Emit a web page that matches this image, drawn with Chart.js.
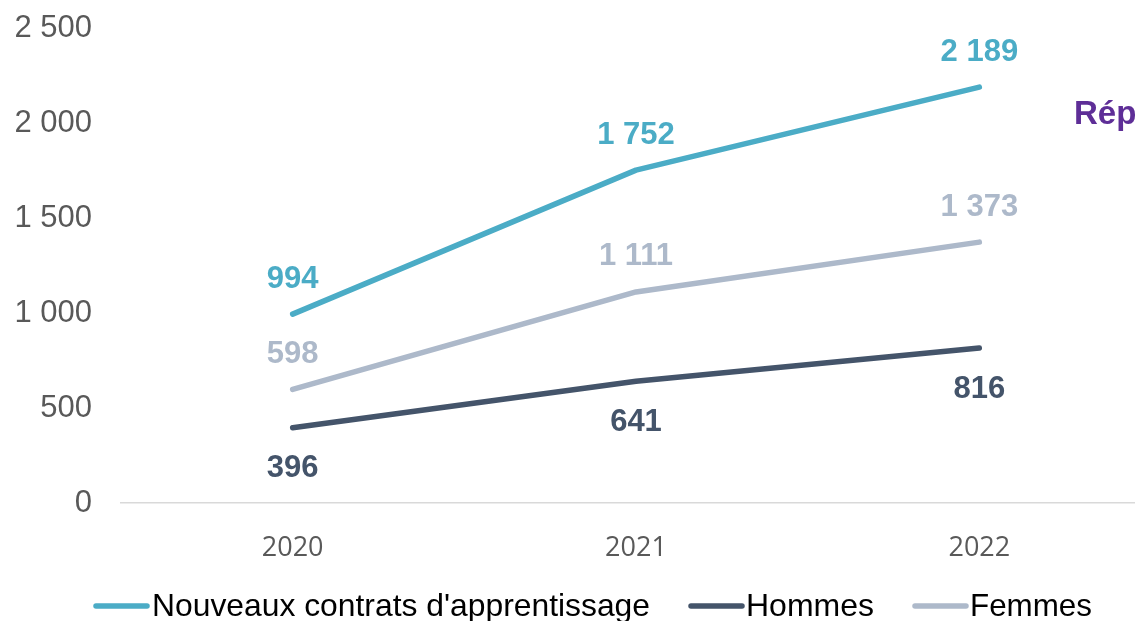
<!DOCTYPE html>
<html>
<head>
<meta charset="utf-8">
<script src="https://cdn.jsdelivr.net/npm/chart.js@4/dist/chart.umd.min.js"></script>
<style>
  html, body { margin: 0; padding: 0; background: #ffffff; overflow: hidden; }
  #wrap { position: relative; width: 1135px; height: 621px; overflow: hidden; }
  #box { position: absolute; left: 0; top: 0; width: 1160px; height: 621px; }
  #side { position: absolute; left: 1074px; top: 94px; white-space: nowrap;
          font: bold 33px "Liberation Sans", Arial, sans-serif; color: #5E2E97; }
</style>
</head>
<body>
<div id="wrap">
  <div id="box"><canvas id="c" width="1160" height="621"></canvas></div>
  <div id="side">Répartition</div>
</div>
<script>
const categories = ['2020', '2021', '2022'];
const contrats = [994, 1752, 2189];
const hommes = [396, 641, 816];
const femmes = [598, 1111, 1373];
const yTicks = [0, 500, 1000, 1500, 2000, 2500];
const seriesNames = ["Nouveaux contrats d'apprentissage", 'Hommes', 'Femmes'];

const colors = ['#4BACC6', '#44546A', '#ADB9CA'];
const labelSide = ['above', 'below', 'above'];

function fmt(v) { return String(v).replace(/\B(?=(\d{3})+(?!\d))/g, ' '); }

const dataLabels = {
  id: 'dataLabels',
  afterDatasetsDraw(chart) {
    const ctx = chart.ctx;
    ctx.save();
    ctx.font = 'bold 31px "Liberation Sans", Arial, sans-serif';
    ctx.textAlign = 'center';
    ctx.textBaseline = 'middle';
    chart.data.datasets.forEach((ds, i) => {
      const meta = chart.getDatasetMeta(i);
      ctx.fillStyle = colors[i];
      meta.data.forEach((pt, j) => {
        const dy = labelSide[i] === 'above' ? -35 : 41;
        ctx.fillText(fmt(ds.data[j]), pt.x, pt.y + dy);
      });
    });
    ctx.restore();
  }
};

const customLegend = {
  id: 'customLegend',
  afterDraw(chart) {
    const ctx = chart.ctx;
    const y = 606;
    const items = [
      { x0: 93, x1: 150, tx: 152, w: 498 },
      { x0: 688, x1: 745, tx: 746, w: 128 },
      { x0: 912, x1: 969, tx: 970, w: 122 }
    ];
    ctx.save();
    chart.data.datasets.forEach((ds, i) => {
      const it = items[i];
      ctx.strokeStyle = colors[i];
      ctx.lineWidth = 5.5;
      ctx.lineCap = 'round';
      ctx.beginPath();
      ctx.moveTo(it.x0 + 3, y);
      ctx.lineTo(it.x1 - 3, y);
      ctx.stroke();
      ctx.font = '32px "Liberation Sans", Arial, sans-serif';
      ctx.fillStyle = '#000000';
      ctx.textBaseline = 'middle';
      ctx.textAlign = 'left';
      const mw = ctx.measureText(ds.label).width;
      const sx = it.w / mw;
      ctx.save();
      ctx.translate(it.tx, y + 1);
      ctx.scale(sx, 1);
      ctx.fillText(ds.label, 0, 0);
      ctx.restore();
    });
    ctx.restore();
  }
};

const series = [contrats, hommes, femmes];
new Chart(document.getElementById('c'), {
  type: 'line',
  data: {
    labels: categories,
    datasets: series.map((d, i) => ({
      label: seriesNames[i],
      data: d,
      borderColor: colors[i],
      backgroundColor: colors[i],
      borderWidth: 5.5,
      borderCapStyle: 'round',
      borderJoinStyle: 'round',
      pointRadius: 0,
      tension: 0,
      fill: false
    }))
  },
  options: {
    responsive: false,
    animation: false,
    layout: { padding: { top: 28, right: 9, left: 0, bottom: 0 } },
    plugins: {
      legend: { display: false },
      tooltip: { enabled: false },
      title: { display: false }
    },
    scales: {
      x: {
        offset: true,
        grid: { display: false, drawTicks: false },
        border: { display: true, color: '#D9D9D9', width: 1.5 },
        ticks: {
          padding: 29,
          color: '#595959',
          font: { family: '"Open Sans", sans-serif', size: 27 }
        },
        afterFit(scale) { scale.height = 118; }
      },
      y: {
        min: 0,
        max: 2500,
        afterBuildTicks(scale) { scale.ticks = yTicks.map(v => ({ value: v })); },
        grid: { display: true, drawOnChartArea: false, drawTicks: true, tickLength: 29, color: 'rgba(0,0,0,0)' },
        border: { display: false },
        ticks: {
          padding: 0,
          color: '#595959',
          font: { family: '"Liberation Sans", Arial, sans-serif', size: 31 },
          callback: (v) => fmt(v)
        },
        afterFit(scale) { scale.width = 121; }
      }
    }
  },
  plugins: [dataLabels, customLegend]
});
</script>
</body>
</html>
